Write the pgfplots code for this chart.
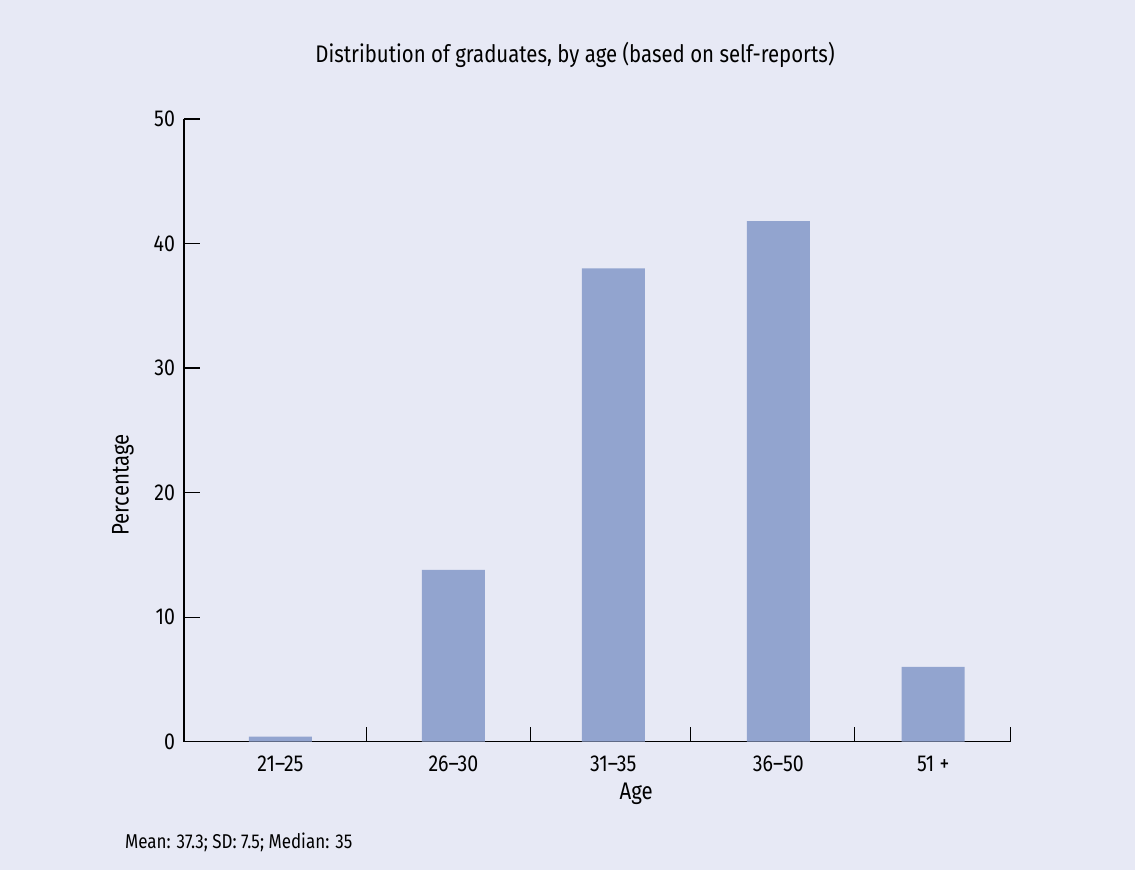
\documentclass[border=0pt]{standalone}
\usepackage{fontspec}
\setmainfont{Fira Sans}[FakeStretch=0.85]
\usepackage{pgfplots}
\pgfplotsset{compat=1.18}
\definecolor{bg}{HTML}{E7E9F5}
\definecolor{barblue}{HTML}{92A4CF}
\begin{document}
\begin{tikzpicture}
% background panel, in pixel units of the reference
\begin{scope}[x=0.5pt,y=0.5pt]
  \fill[bg] (-184,-128.3) rectangle (951,741.7);
\end{scope}
\begin{axis}[
  scale only axis,
  width=413.35pt, height=311.35pt,
  xmin=184, xmax=1011, ymin=0, ymax=50,
  axis lines*=left,
  axis line style={line width=0.65pt, black},
  tick align=inside,
  major tick length=8pt,
  minor tick length=7.5pt,
  xtick={280.5,453.5,613.5,778.5,933.5},
  xticklabels={21--25,26--30,31--35,36--50,51 +},
  minor xtick={366.7,530.7,690.7,855,1010.7},
  major x tick style={draw=none},
  minor x tick style={line width=0.65pt, black},
  ytick={0,10,...,50},
  ytick style={line width=0.65pt, black},
  tick label style={font=\fontsize{11.5}{13}\selectfont},
  /pgf/number format/assume math mode=true,
  yticklabel style={xshift=-1pt},
  xticklabel style={anchor=base, yshift=-15.15pt},
  title={Distribution of graduates, by age (based on self-reports)},
  title style={at={(axis description cs:0.473,1.090)}, anchor=base, yshift=-6pt, font=\fontsize{12}{14}\selectfont},
  xlabel={Age},
  xlabel style={at={(axis description cs:0.547,-0.0935)}, anchor=base, font=\fontsize{12}{14}\selectfont},
  ylabel={Percentage},
  ylabel style={at={(axis description cs:-0.0738,0.412)}, anchor=center, font=\fontsize{12}{14}\selectfont},
  clip=false,
]
\addplot[ybar, fill=barblue, draw=none, bar width=31.5pt] coordinates {
  (280.5,0.4) (453.5,13.8) (613.5,38.0) (778.5,41.8) (933.5,6.0)
};
\node[anchor=base west, font=\fontsize{10}{12}\selectfont] at (axis description cs:-0.0798,-0.1723) {Mean: 37.3; SD: 7.5; Median: 35};
\end{axis}
\end{tikzpicture}
\end{document}
